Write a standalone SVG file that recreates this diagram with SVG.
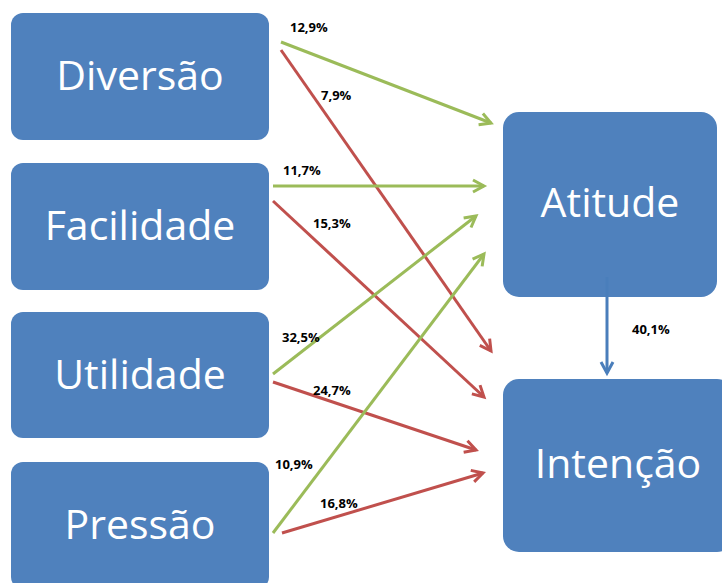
<svg xmlns="http://www.w3.org/2000/svg" width="722" height="583" viewBox="0 0 722 583">
<style>
.node{fill:#4F81BD;}
.nt{font-family:"Open Sans","Liberation Sans",sans-serif;font-size:41px;fill:#fff;text-anchor:middle;}
.lbl{font-family:"Open Sans","Liberation Sans",sans-serif;font-size:13px;font-weight:bold;fill:#000;}
.g{stroke:#9BBB59;stroke-width:3;fill:none;}
.r{stroke:#C0504D;stroke-width:3;fill:none;}
.b{stroke:#4A7EBB;stroke-width:3;fill:none;}
</style>
<defs>
<marker id="ag" viewBox="0 0 14 14" refX="12" refY="7" markerWidth="14" markerHeight="14" markerUnits="userSpaceOnUse" orient="auto" overflow="visible"><path d="M1,1 L12,7 L1,13" fill="none" stroke="#9BBB59" stroke-width="3"/></marker>
<marker id="ar" viewBox="0 0 14 14" refX="12" refY="7" markerWidth="14" markerHeight="14" markerUnits="userSpaceOnUse" orient="auto" overflow="visible"><path d="M1,1 L12,7 L1,13" fill="none" stroke="#C0504D" stroke-width="3"/></marker>
<marker id="ab" viewBox="0 0 14 14" refX="12" refY="7" markerWidth="14" markerHeight="14" markerUnits="userSpaceOnUse" orient="auto" overflow="visible"><path d="M1,1 L12,7 L1,13" fill="none" stroke="#4A7EBB" stroke-width="3"/></marker>
</defs>
<g id="diversao"><rect class="node" x="11" y="13" width="258" height="127" rx="12"/><text class="nt" x="140" y="90">Diversão</text></g>
<g id="facilidade"><rect class="node" x="11" y="163" width="258" height="127" rx="12"/><text class="nt" x="140" y="240">Facilidade</text></g>
<g id="utilidade"><rect class="node" x="11" y="312" width="258" height="126" rx="12"/><text class="nt" x="140" y="389">Utilidade</text></g>
<g id="pressao"><rect class="node" x="11" y="462" width="258" height="127" rx="12"/><text class="nt" x="140" y="539">Pressão</text></g>
<g id="atitude"><rect class="node" x="503" y="112" width="214" height="185" rx="16"/><text class="nt" x="610" y="217">Atitude</text></g>
<g id="intencao"><rect class="node" x="503" y="379" width="230" height="173" rx="16"/><text class="nt" x="618" y="478">Intenção</text></g>
<g id="connectors">
<line class="g" x1="281" y1="42" x2="491" y2="123" marker-end="url(#ag)"/>
<line class="r" x1="281" y1="50" x2="491" y2="351" marker-end="url(#ar)"/>
<line class="g" x1="273" y1="186" x2="484" y2="186" marker-end="url(#ag)"/>
<line class="r" x1="273" y1="201" x2="484" y2="397" marker-end="url(#ar)"/>
<line class="g" x1="273" y1="374" x2="476" y2="216" marker-end="url(#ag)"/>
<line class="r" x1="273" y1="382" x2="476" y2="450" marker-end="url(#ar)"/>
<line class="g" x1="273" y1="533" x2="484" y2="254" marker-end="url(#ag)"/>
<line class="r" x1="282" y1="533" x2="483" y2="473" marker-end="url(#ar)"/>
<line class="b" x1="607" y1="277" x2="607" y2="373" marker-end="url(#ab)"/>
</g>
<g id="labels">
<text class="lbl" x="290" y="32">12,9%</text>
<text class="lbl" x="321" y="100">7,9%</text>
<text class="lbl" x="283" y="175">11,7%</text>
<text class="lbl" x="313" y="228">15,3%</text>
<text class="lbl" x="282" y="342">32,5%</text>
<text class="lbl" x="313" y="395">24,7%</text>
<text class="lbl" x="275" y="469">10,9%</text>
<text class="lbl" x="320" y="508">16,8%</text>
<text class="lbl" x="632" y="334">40,1%</text>
</g>
</svg>
